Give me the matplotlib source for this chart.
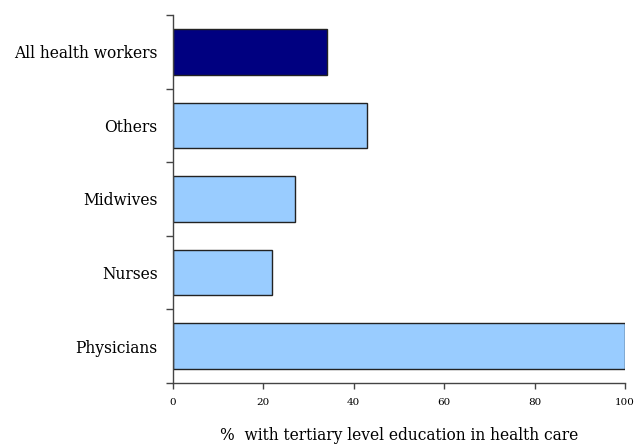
import numpy as np
import matplotlib
matplotlib.use("Agg")
import matplotlib.pyplot as plt

# categories bottom to top
categories = ["Physicians", "Nurses", "Midwives", "Others", "All health workers"]
values = [100, 22, 27, 43, 34]
bar_colors = ["#99CCFF", "#99CCFF", "#99CCFF", "#99CCFF", "#000080"]
x_ticks = [0, 20, 40, 60, 80, 100]

plt.rcParams["font.family"] = ["DejaVu Serif"]

fig = plt.figure(figsize=(6.35, 4.47), dpi=100)
ax = fig.add_axes([173 / 635, 1 - 383 / 447, (625 - 173) / 635, (383 - 15) / 447])

y = np.arange(len(categories))
ax.barh(y, values, height=0.62, color=bar_colors, edgecolor="#222222", linewidth=1.0)

ax.set_xlim(0, 100)
ax.set_ylim(-0.5, len(categories) - 0.5)

# spines
for side in ["top", "right"]:
    ax.spines[side].set_visible(False)
for side in ["left", "bottom"]:
    ax.spines[side].set_color("#444444")
    ax.spines[side].set_linewidth(1.0)

# y: labels at centers, tick marks at category boundaries
ax.set_yticks(y)
ax.set_yticklabels(categories, fontsize=11.2)
ax.set_yticks(np.arange(-0.5, len(categories), 1.0), minor=True)
ax.tick_params(axis="y", which="major", length=0, pad=11)
ax.tick_params(axis="y", which="minor", length=5, color="#444444", width=1.0)

ax.set_xticks(x_ticks)
ax.set_xticklabels([str(t) for t in x_ticks], fontsize=7.5)
ax.tick_params(axis="x", length=4, color="#444444", width=1.0, pad=7)

ax.set_xlabel("%  with tertiary level education in health care", fontsize=11.2, labelpad=14)

fig.savefig("out.png", dpi=100)
